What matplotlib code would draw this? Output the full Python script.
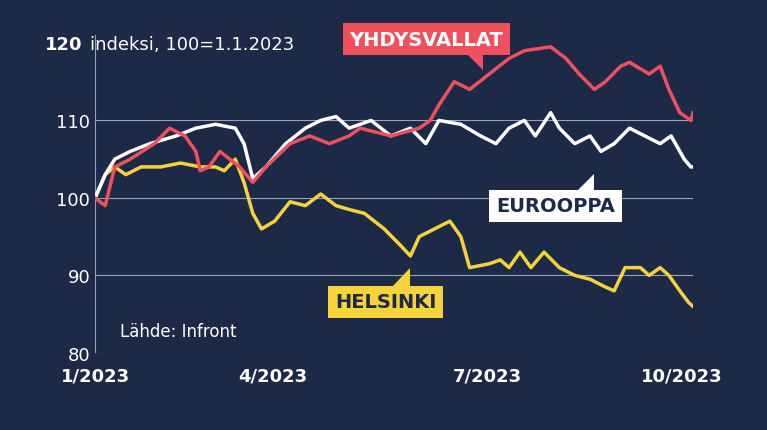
import numpy as np
import matplotlib.pyplot as plt
from matplotlib.patches import Polygon

BG = "#1c2a48"
RED = "#f0505c"
YEL = "#f7d23a"

us_day = [0, 4.6, 9, 16, 27, 34, 41, 46, 48, 52, 57, 66, 72, 78, 89, 98, 107, 116, 121, 135, 148, 153, 157, 164, 171, 180, 189, 196, 208, 215, 221, 228, 233, 240, 244, 253, 258, 262, 267, 272, 273]
us_val = [100, 99, 104, 105, 107, 109, 108, 106, 103.5, 104, 106, 104, 102, 104, 107, 108, 107, 108, 109, 108, 109, 110, 112, 115, 114, 116, 118, 119, 119.5, 118, 116, 114, 115, 117, 117.5, 116, 117, 114, 111, 110, 111]

eu_day = [0, 4.6, 9, 16, 25, 37, 46, 55, 64, 68, 72, 78, 87, 96, 103, 110, 116, 126, 135, 144, 151, 157, 167, 176, 183, 189, 196, 201, 208, 212, 219, 226, 231, 237, 244, 251, 258, 263, 269, 272, 273]
eu_val = [100, 103, 105, 106, 107, 108, 109, 109.5, 109, 107, 102.5, 104, 107, 109, 110, 110.5, 109, 110, 108, 109, 107, 110, 109.5, 108, 107, 109, 110, 108, 111, 109, 107, 108, 106, 107, 109, 108, 107, 108, 105, 104, 104]

he_day = [0, 4.6, 9, 14, 21, 30, 39, 48, 55, 59, 64, 68, 72, 76, 82, 89, 96, 103, 110, 116, 123, 132, 139, 144, 148, 155, 162, 167, 171, 180, 185, 189, 194, 199, 205, 212, 219, 226, 233, 237, 242, 249, 253, 258, 262, 267, 271, 273]
he_val = [100, 103, 104, 103, 104, 104, 104.5, 104, 104, 103.5, 105, 102, 98, 96, 97, 99.5, 99, 100.5, 99, 98.5, 98, 96, 94, 92.5, 95, 96, 97, 95, 91, 91.5, 92, 91, 93, 91, 93, 91, 90, 89.5, 88.5, 88, 91, 91, 90, 91, 90, 88, 86.5, 86]

xtick_pos = [0, 81, 179, 268]
xtick_lab = ["1/2023", "4/2023", "7/2023", "10/2023"]
ytick_pos = [80, 90, 100, 110]

fig = plt.figure(figsize=(7.67, 4.31), dpi=100, facecolor=BG)
ax = fig.add_axes([0.124, 0.179, 0.7795, 0.737], facecolor=BG)

for y in ytick_pos:
    ax.axhline(y, color="#9aa3b5", lw=0.8, zorder=1)
ax.axvline(0, color="#9aa3b5", lw=0.8, zorder=1)

ax.plot(he_day, he_val, color=YEL, lw=2.5, zorder=3)
ax.plot(eu_day, eu_val, color="white", lw=2.5, zorder=4)
ax.plot(us_day, us_val, color=RED, lw=2.5, zorder=5)

ax.set_xlim(0, 273)
ax.set_ylim(80, 121)
for s in ax.spines.values():
    s.set_visible(False)
ax.set_xticks(xtick_pos)
ax.set_xticklabels(xtick_lab)
ax.set_yticks(ytick_pos)
ax.tick_params(length=0, colors="white", labelsize=13)
for t in ax.get_xticklabels():
    t.set_fontweight("bold")
ax.tick_params(axis="x", pad=10)

fig.text(0.058, 0.895, "120", color="white", fontsize=13, fontweight="bold", va="center")
fig.text(0.117, 0.895, "indeksi, 100=1.1.2023", color="white", fontsize=13, va="center")
fig.text(0.157, 0.23, "Lähde: Infront", color="white", fontsize=12, va="center")

def label(x, y, s, fc, tc, tail):
    fig.text(x, y, s, color=tc, fontsize=14, fontweight="bold", ha="center", va="center",
             bbox=dict(boxstyle="square,pad=0.35", fc=fc, ec="none"))
    fig.patches.append(Polygon(tail, closed=True, transform=fig.transFigure, fc=fc, ec="none"))

label(0.556, 0.907, "YHDYSVALLAT", RED, "white", [(0.605, 0.88), (0.63, 0.88), (0.63, 0.835)])
label(0.724, 0.52, "EUROOPPA", "white", BG, [(0.75, 0.55), (0.775, 0.55), (0.775, 0.595)])
label(0.503, 0.297, "HELSINKI", YEL, BG, [(0.51, 0.33), (0.535, 0.33), (0.535, 0.375)])

fig.savefig("out.png", dpi=100, facecolor=BG)
